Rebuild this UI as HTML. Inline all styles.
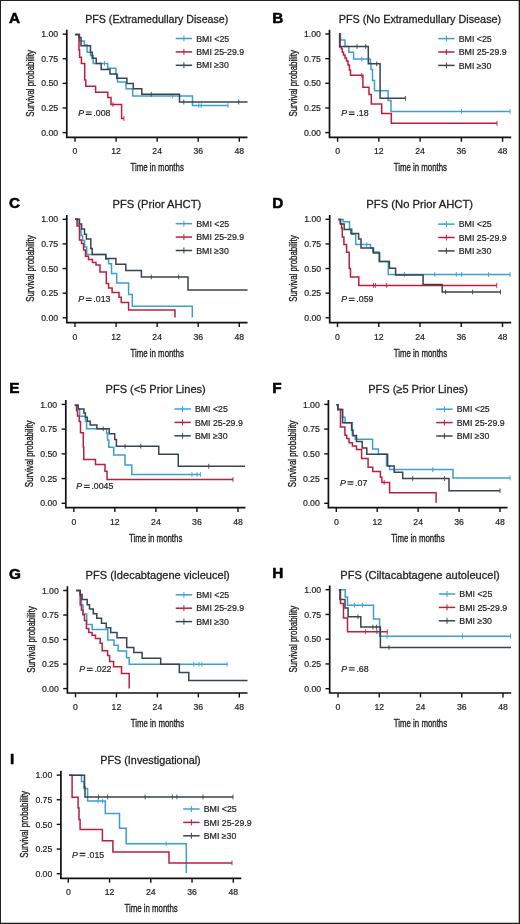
<!DOCTYPE html>
<html><head><meta charset="utf-8"><style>
html,body{margin:0;padding:0;background:#fff;}
body{width:520px;height:924px;overflow:hidden;}
svg{display:block;will-change:transform;}
text{font-family:'Liberation Sans', sans-serif;fill:#222;stroke:#222;stroke-width:0.2px;}
.L{font-size:15.3px;font-weight:bold;fill:#000;stroke:#000;stroke-width:0.55px;}
.T{font-size:11.3px;stroke-width:0.28px;}
.tl{font-size:8.7px;}
.at{font-size:11.4px;stroke:#222;stroke-width:0.35px;}
.pv{font-size:8.8px;}
.lt{font-size:8.8px;}
.ax{fill:none;stroke:#111;stroke-width:1.7;stroke-linejoin:miter;stroke-linecap:butt;}
.tk{fill:none;stroke:#111;stroke-width:1.4;}
.lg{fill:none;stroke-width:1.5;}
.lgc{fill:none;stroke-width:1;}
.cv path{fill:none;stroke-width:1.5;stroke-linejoin:miter;}
.cv path.cs{stroke-width:0.9;}
</style></head><body>
<svg width="520" height="924" viewBox="0 0 520 924">
<rect x="0" y="0" width="520" height="924" fill="#fff"/><path d="M0.5 0V924M0 0.5H520" stroke="#222" stroke-width="1" fill="none"/><path d="M519.35 0V924M0 923.35H520" stroke="#1a1a1a" stroke-width="1.3" fill="none"/>
<text x="9.1" y="22.75" class="L">A</text>
<text x="156.75" y="22.9" class="T" text-anchor="middle" textLength="143.1" lengthAdjust="spacingAndGlyphs">PFS (Extramedullary Disease)</text>
<path d="M66.8 29.8V137.4H247.5" class="ax" />
<path d="M62.6 34.1H66.8" class="tk" />
<text x="58.2" y="37.2" class="tl" text-anchor="end">1.00</text>
<path d="M62.6 58.73H66.8" class="tk" />
<text x="58.2" y="61.83" class="tl" text-anchor="end">0.75</text>
<path d="M62.6 83.35H66.8" class="tk" />
<text x="58.2" y="86.45" class="tl" text-anchor="end">0.50</text>
<path d="M62.6 107.97H66.8" class="tk" />
<text x="58.2" y="111.07" class="tl" text-anchor="end">0.25</text>
<path d="M62.6 132.6H66.8" class="tk" />
<text x="58.2" y="135.7" class="tl" text-anchor="end">0.00</text>
<path d="M75 137.4V141.8" class="tk" />
<text x="75" y="154.2" class="tl" text-anchor="middle">0</text>
<path d="M116.08 137.4V141.8" class="tk" />
<text x="116.08" y="154.2" class="tl" text-anchor="middle">12</text>
<path d="M157.15 137.4V141.8" class="tk" />
<text x="157.15" y="154.2" class="tl" text-anchor="middle">24</text>
<path d="M198.23 137.4V141.8" class="tk" />
<text x="198.23" y="154.2" class="tl" text-anchor="middle">36</text>
<path d="M239.3 137.4V141.8" class="tk" />
<text x="239.3" y="154.2" class="tl" text-anchor="middle">48</text>
<text x="157.15" y="171.2" class="at" text-anchor="middle" textLength="53.4" lengthAdjust="spacingAndGlyphs">Time in months</text>
<text transform="translate(34.2 83.35) rotate(-90)" x="0" y="0" class="at" text-anchor="middle" textLength="66.6" lengthAdjust="spacingAndGlyphs">Survival probability</text>
<text x="78.2" y="116.3" class="pv" font-style="italic">P</text>
<path d="M85.8 112.05h5.8M85.8 114.35h5.8" stroke="#222" stroke-width="1.05" fill="none" />
<text x="93.3" y="116.3" class="pv">.008</text>
<path d="M175.7 38.5H192.1" stroke="#3a9fd2" class="lg" /><path d="M183.9 35.5V41.5" stroke="#3a9fd2" class="lgc" />
<text x="196.2" y="41.6" class="lt">BMI &lt;25</text>
<path d="M175.7 51.9H192.1" stroke="#ba1f40" class="lg" /><path d="M183.9 48.9V54.9" stroke="#ba1f40" class="lgc" />
<text x="196.2" y="55" class="lt">BMI 25-29.9</text>
<path d="M175.7 65.3H192.1" stroke="#3a4350" class="lg" /><path d="M183.9 62.3V68.3" stroke="#3a4350" class="lgc" />
<text x="196.2" y="68.4" class="lt">BMI ≥30</text>
<g class="cv">
<path d="M75.2 34.4H79.5V41.1H84.4V45.1H87.1V52.2H90.5V55.6H93.2V63.4H107.7V68.2H115.9V74.4H117.5V81.9H126V88.8H132.7V96.1H192.5V105.5H228" stroke="#3a9fd2" /><path d="M104.5 61V65.8" stroke="#3a9fd2" class="cs" /><path d="M172.5 93.7V98.5" stroke="#3a9fd2" class="cs" /><path d="M198.75 103.1V107.9" stroke="#3a9fd2" class="cs" /><path d="M201.25 103.1V107.9" stroke="#3a9fd2" class="cs" /><path d="M228 103.1V107.9" stroke="#3a9fd2" class="cs" />
<path d="M75.2 34.4H79V50H79.6V57.3H81.4V63.4H84.7V80H85.8V86.2H95.6V92.3H107.8V97.6H111V104.5H121.6V118.6H123.9" stroke="#ba1f40" /><path d="M113 102.1V106.9" stroke="#ba1f40" class="cs" /><path d="M123.9 116.2V121" stroke="#ba1f40" class="cs" />
<path d="M75.2 34.4H79V37.4H81V45.8H90.5V52.2H92.2V58.3H96.2V63.6H101.2V69.5H110V74H116.8V78.3H126.9V83.6H133.2V88.8H141.8V94.3H179.5V102H247.5" stroke="#3a4350" /><path d="M151.25 91.9V96.7" stroke="#3a4350" class="cs" /><path d="M183.75 99.6V104.4" stroke="#3a4350" class="cs" /><path d="M238.75 99.6V104.4" stroke="#3a4350" class="cs" />
</g>
<text x="272.3" y="22.65" class="L">B</text>
<text x="419.95" y="22.8" class="T" text-anchor="middle" textLength="162.5" lengthAdjust="spacingAndGlyphs">PFS (No Extramedullary Disease)</text>
<path d="M329.5 29.7V137.4H511.2" class="ax" />
<path d="M325.3 34H329.5" class="tk" />
<text x="320.9" y="37.1" class="tl" text-anchor="end">1.00</text>
<path d="M325.3 58.65H329.5" class="tk" />
<text x="320.9" y="61.75" class="tl" text-anchor="end">0.75</text>
<path d="M325.3 83.3H329.5" class="tk" />
<text x="320.9" y="86.4" class="tl" text-anchor="end">0.50</text>
<path d="M325.3 107.95H329.5" class="tk" />
<text x="320.9" y="111.05" class="tl" text-anchor="end">0.25</text>
<path d="M325.3 132.6H329.5" class="tk" />
<text x="320.9" y="135.7" class="tl" text-anchor="end">0.00</text>
<path d="M337.6 137.4V141.8" class="tk" />
<text x="337.6" y="154.2" class="tl" text-anchor="middle">0</text>
<path d="M378.85 137.4V141.8" class="tk" />
<text x="378.85" y="154.2" class="tl" text-anchor="middle">12</text>
<path d="M420.1 137.4V141.8" class="tk" />
<text x="420.1" y="154.2" class="tl" text-anchor="middle">24</text>
<path d="M461.35 137.4V141.8" class="tk" />
<text x="461.35" y="154.2" class="tl" text-anchor="middle">36</text>
<path d="M502.6 137.4V141.8" class="tk" />
<text x="502.6" y="154.2" class="tl" text-anchor="middle">48</text>
<text x="420.35" y="171.2" class="at" text-anchor="middle" textLength="53.4" lengthAdjust="spacingAndGlyphs">Time in months</text>
<text transform="translate(296.9 83.3) rotate(-90)" x="0" y="0" class="at" text-anchor="middle" textLength="66.6" lengthAdjust="spacingAndGlyphs">Survival probability</text>
<text x="341.2" y="116.3" class="pv" font-style="italic">P</text>
<path d="M348.8 112.05h5.8M348.8 114.35h5.8" stroke="#222" stroke-width="1.05" fill="none" />
<text x="356.3" y="116.3" class="pv">.18</text>
<path d="M438.2 38.6H454.6" stroke="#3a9fd2" class="lg" /><path d="M446.4 35.6V41.6" stroke="#3a9fd2" class="lgc" />
<text x="458.7" y="41.7" class="lt">BMI &lt;25</text>
<path d="M438.2 52H454.6" stroke="#ba1f40" class="lg" /><path d="M446.4 49V55" stroke="#ba1f40" class="lgc" />
<text x="458.7" y="55.1" class="lt">BMI 25-29.9</text>
<path d="M438.2 65.4H454.6" stroke="#3a4350" class="lg" /><path d="M446.4 62.4V68.4" stroke="#3a4350" class="lgc" />
<text x="458.7" y="68.5" class="lt">BMI ≥30</text>
<g class="cv">
<path d="M339.2 33.8H340.5V40.1H345V46.5H348.8V52.2H353.6V59.1H370.3V63.2H371V69.5H372.5V80.4H374.5V90.8H388.1V100.6H391V111.5H510" stroke="#3a9fd2" /><path d="M361.7 56.7V61.5" stroke="#3a9fd2" class="cs" /><path d="M461.5 109.1V113.9" stroke="#3a9fd2" class="cs" /><path d="M510 109.1V113.9" stroke="#3a9fd2" class="cs" />
<path d="M339.2 33.8H340V47H341.5V48.8H342.3V52.2H343.5V55H345V58H346.5V61H348V65H349.4V70H350.5V75.2H362.9V87.3H369V94.5H371.3V104H381.7V113.6H391.3V123.3H497" stroke="#ba1f40" /><path d="M361.7 72.8V77.6" stroke="#ba1f40" class="cs" /><path d="M497 120.9V125.7" stroke="#ba1f40" class="cs" />
<path d="M339.2 33.8H339.6V46.5H368.3V63.8H380.1V98.3H405.4" stroke="#3a4350" /><path d="M357 44.1V48.9" stroke="#3a4350" class="cs" /><path d="M365.7 44.1V48.9" stroke="#3a4350" class="cs" /><path d="M376.7 61.4V66.2" stroke="#3a4350" class="cs" /><path d="M405.4 95.9V100.7" stroke="#3a4350" class="cs" />
</g>
<text x="9.1" y="207.95" class="L">C</text>
<text x="156.85" y="208.1" class="T" text-anchor="middle" textLength="88.7" lengthAdjust="spacingAndGlyphs">PFS (Prior AHCT)</text>
<path d="M66.8 215V322.7H247.5" class="ax" />
<path d="M62.6 219.3H66.8" class="tk" />
<text x="58.2" y="222.4" class="tl" text-anchor="end">1.00</text>
<path d="M62.6 243.93H66.8" class="tk" />
<text x="58.2" y="247.03" class="tl" text-anchor="end">0.75</text>
<path d="M62.6 268.55H66.8" class="tk" />
<text x="58.2" y="271.65" class="tl" text-anchor="end">0.50</text>
<path d="M62.6 293.18H66.8" class="tk" />
<text x="58.2" y="296.28" class="tl" text-anchor="end">0.25</text>
<path d="M62.6 317.8H66.8" class="tk" />
<text x="58.2" y="320.9" class="tl" text-anchor="end">0.00</text>
<path d="M75 322.7V327.1" class="tk" />
<text x="75" y="339.5" class="tl" text-anchor="middle">0</text>
<path d="M116.08 322.7V327.1" class="tk" />
<text x="116.08" y="339.5" class="tl" text-anchor="middle">12</text>
<path d="M157.15 322.7V327.1" class="tk" />
<text x="157.15" y="339.5" class="tl" text-anchor="middle">24</text>
<path d="M198.23 322.7V327.1" class="tk" />
<text x="198.23" y="339.5" class="tl" text-anchor="middle">36</text>
<path d="M239.3 322.7V327.1" class="tk" />
<text x="239.3" y="339.5" class="tl" text-anchor="middle">48</text>
<text x="157.15" y="356.5" class="at" text-anchor="middle" textLength="53.4" lengthAdjust="spacingAndGlyphs">Time in months</text>
<text transform="translate(34.2 268.55) rotate(-90)" x="0" y="0" class="at" text-anchor="middle" textLength="66.6" lengthAdjust="spacingAndGlyphs">Survival probability</text>
<text x="78.2" y="302.4" class="pv" font-style="italic">P</text>
<path d="M85.8 298.15h5.8M85.8 300.45h5.8" stroke="#222" stroke-width="1.05" fill="none" />
<text x="93.3" y="302.4" class="pv">.013</text>
<path d="M175.7 223.7H192.1" stroke="#3a9fd2" class="lg" /><path d="M183.9 220.7V226.7" stroke="#3a9fd2" class="lgc" />
<text x="196.2" y="226.8" class="lt">BMI &lt;25</text>
<path d="M175.7 237.1H192.1" stroke="#ba1f40" class="lg" /><path d="M183.9 234.1V240.1" stroke="#ba1f40" class="lgc" />
<text x="196.2" y="240.2" class="lt">BMI 25-29.9</text>
<path d="M175.7 250.5H192.1" stroke="#3a4350" class="lg" /><path d="M183.9 247.5V253.5" stroke="#3a4350" class="lgc" />
<text x="196.2" y="253.6" class="lt">BMI ≥30</text>
<g class="cv">
<path d="M75 219.3H77.8V224H79.6V230H81V235.5H82.6V240.5H84.6V247H86.7V254.6H105.8V259.2H108.6V263.8H111.5V273.6H116.7V282.9H128.6V294.4H132.3V306.3H192.3V317.5" stroke="#3a9fd2" />
<path d="M75 219.3H77V226H79.5V240H81.5V243.5H83.6V250H85.5V256.3H88.5V259.5H92.5V262.5H96V265H100V271.9H106.3V283.4H108.6V288H112.1V292.5H119V297.3H121.3V302.4H128.6V310H175V317.5" stroke="#ba1f40" />
<path d="M75 219.3H79.5V224.1H81.6V228.9H84.5V234.2H86.4V239H90.8V248.6H92.2V254.4H105.8V258.6H115.9V264.3H125.8V270.4H141.4V276.9H188V290H247.5" stroke="#3a4350" /><path d="M151.25 274.5V279.3" stroke="#3a4350" class="cs" /><path d="M178.75 274.5V279.3" stroke="#3a4350" class="cs" />
</g>
<text x="272.3" y="207.95" class="L">D</text>
<text x="419.7" y="208.1" class="T" text-anchor="middle" textLength="106.8" lengthAdjust="spacingAndGlyphs">PFS (No Prior AHCT)</text>
<path d="M329.7 215V322.7H511.2" class="ax" />
<path d="M325.5 219.3H329.7" class="tk" />
<text x="321.1" y="222.4" class="tl" text-anchor="end">1.00</text>
<path d="M325.5 243.93H329.7" class="tk" />
<text x="321.1" y="247.03" class="tl" text-anchor="end">0.75</text>
<path d="M325.5 268.55H329.7" class="tk" />
<text x="321.1" y="271.65" class="tl" text-anchor="end">0.50</text>
<path d="M325.5 293.18H329.7" class="tk" />
<text x="321.1" y="296.28" class="tl" text-anchor="end">0.25</text>
<path d="M325.5 317.8H329.7" class="tk" />
<text x="321.1" y="320.9" class="tl" text-anchor="end">0.00</text>
<path d="M337.5 322.7V327.1" class="tk" />
<text x="337.5" y="339.5" class="tl" text-anchor="middle">0</text>
<path d="M378.75 322.7V327.1" class="tk" />
<text x="378.75" y="339.5" class="tl" text-anchor="middle">12</text>
<path d="M420 322.7V327.1" class="tk" />
<text x="420" y="339.5" class="tl" text-anchor="middle">24</text>
<path d="M461.25 322.7V327.1" class="tk" />
<text x="461.25" y="339.5" class="tl" text-anchor="middle">36</text>
<path d="M502.5 322.7V327.1" class="tk" />
<text x="502.5" y="339.5" class="tl" text-anchor="middle">48</text>
<text x="420.45" y="356.5" class="at" text-anchor="middle" textLength="53.4" lengthAdjust="spacingAndGlyphs">Time in months</text>
<text transform="translate(297.1 268.55) rotate(-90)" x="0" y="0" class="at" text-anchor="middle" textLength="66.6" lengthAdjust="spacingAndGlyphs">Survival probability</text>
<text x="341.2" y="302.4" class="pv" font-style="italic">P</text>
<path d="M348.8 298.15h5.8M348.8 300.45h5.8" stroke="#222" stroke-width="1.05" fill="none" />
<text x="356.3" y="302.4" class="pv">.059</text>
<path d="M438.2 224.1H454.6" stroke="#3a9fd2" class="lg" /><path d="M446.4 221.1V227.1" stroke="#3a9fd2" class="lgc" />
<text x="458.7" y="227.2" class="lt">BMI &lt;25</text>
<path d="M438.2 237.5H454.6" stroke="#ba1f40" class="lg" /><path d="M446.4 234.5V240.5" stroke="#ba1f40" class="lgc" />
<text x="458.7" y="240.6" class="lt">BMI 25-29.9</text>
<path d="M438.2 250.9H454.6" stroke="#3a4350" class="lg" /><path d="M446.4 247.9V253.9" stroke="#3a4350" class="lgc" />
<text x="458.7" y="254" class="lt">BMI ≥30</text>
<g class="cv">
<path d="M338.4 219.6H343.2V221.7H349.5V229H351.9V234.2H355.7V244.6H370.6V248.1H372.7V252.1H379V261.4H388.3V274.5H510" stroke="#3a9fd2" /><path d="M366.8 242.2V247" stroke="#3a9fd2" class="cs" /><path d="M404.5 272.1V276.9" stroke="#3a9fd2" class="cs" /><path d="M434.7 272.1V276.9" stroke="#3a9fd2" class="cs" /><path d="M456.3 272.1V276.9" stroke="#3a9fd2" class="cs" /><path d="M461.6 272.1V276.9" stroke="#3a9fd2" class="cs" /><path d="M488.6 272.1V276.9" stroke="#3a9fd2" class="cs" /><path d="M510 272.1V276.9" stroke="#3a9fd2" class="cs" />
<path d="M338.4 219.6H340.3V223.6H341.5V228H342.3V237H343.9V244.6H346.6V252.3H349.2V268.5H350.5V276.9H358.8V285.4H496.7" stroke="#ba1f40" /><path d="M373.5 283V287.8" stroke="#ba1f40" class="cs" /><path d="M375.4 283V287.8" stroke="#ba1f40" class="cs" /><path d="M386.7 283V287.8" stroke="#ba1f40" class="cs" /><path d="M496.7 283V287.8" stroke="#ba1f40" class="cs" />
<path d="M338.4 219.6H340.5V224.1H344.2V229.4H350.9V233.5H358.6V239H361V248.1H373.5V253H379.6V261.4H389.4V268.3H395.6V275H423.1V284.5H442.2V292H500.5" stroke="#3a4350" /><path d="M445.6 289.6V294.4" stroke="#3a4350" class="cs" /><path d="M472.6 289.6V294.4" stroke="#3a4350" class="cs" /><path d="M500.5 289.6V294.4" stroke="#3a4350" class="cs" />
</g>
<text x="9.3" y="393.05" class="L">E</text>
<text x="155.65" y="393.2" class="T" text-anchor="middle" textLength="100.1" lengthAdjust="spacingAndGlyphs">PFS (&lt;5 Prior Lines)</text>
<path d="M65.8 400.1V507.7H245.5" class="ax" />
<path d="M61.6 404.4H65.8" class="tk" />
<text x="57.2" y="407.5" class="tl" text-anchor="end">1.00</text>
<path d="M61.6 429.12H65.8" class="tk" />
<text x="57.2" y="432.23" class="tl" text-anchor="end">0.75</text>
<path d="M61.6 453.85H65.8" class="tk" />
<text x="57.2" y="456.95" class="tl" text-anchor="end">0.50</text>
<path d="M61.6 478.57H65.8" class="tk" />
<text x="57.2" y="481.68" class="tl" text-anchor="end">0.25</text>
<path d="M61.6 503.3H65.8" class="tk" />
<text x="57.2" y="506.4" class="tl" text-anchor="end">0.00</text>
<path d="M73.8 507.7V512.1" class="tk" />
<text x="73.8" y="524.5" class="tl" text-anchor="middle">0</text>
<path d="M114.85 507.7V512.1" class="tk" />
<text x="114.85" y="524.5" class="tl" text-anchor="middle">12</text>
<path d="M155.9 507.7V512.1" class="tk" />
<text x="155.9" y="524.5" class="tl" text-anchor="middle">24</text>
<path d="M196.95 507.7V512.1" class="tk" />
<text x="196.95" y="524.5" class="tl" text-anchor="middle">36</text>
<path d="M238 507.7V512.1" class="tk" />
<text x="238" y="524.5" class="tl" text-anchor="middle">48</text>
<text x="155.65" y="541.5" class="at" text-anchor="middle" textLength="53.4" lengthAdjust="spacingAndGlyphs">Time in months</text>
<text transform="translate(33.2 453.85) rotate(-90)" x="0" y="0" class="at" text-anchor="middle" textLength="66.6" lengthAdjust="spacingAndGlyphs">Survival probability</text>
<text x="76.3" y="489.4" class="pv" font-style="italic">P</text>
<path d="M83.9 485.15h5.8M83.9 487.45h5.8" stroke="#222" stroke-width="1.05" fill="none" />
<text x="91.4" y="489.4" class="pv">.0045</text>
<path d="M174.4 409H190.8" stroke="#3a9fd2" class="lg" /><path d="M182.6 406V412" stroke="#3a9fd2" class="lgc" />
<text x="194.9" y="412.1" class="lt">BMI &lt;25</text>
<path d="M174.4 422.4H190.8" stroke="#ba1f40" class="lg" /><path d="M182.6 419.4V425.4" stroke="#ba1f40" class="lgc" />
<text x="194.9" y="425.5" class="lt">BMI 25-29.9</text>
<path d="M174.4 435.8H190.8" stroke="#3a4350" class="lg" /><path d="M182.6 432.8V438.8" stroke="#3a4350" class="lgc" />
<text x="194.9" y="438.9" class="lt">BMI ≥30</text>
<g class="cv">
<path d="M74.8 405.3H78.2V409H79.6V416.3H85.4V421H86.6V428.7H106.5V433H107.5V439.9H108.8V447.3H113.75V455H125V465H131.75V474.5H200" stroke="#3a9fd2" /><path d="M191.9 472.1V476.9" stroke="#3a9fd2" class="cs" /><path d="M197.1 472.1V476.9" stroke="#3a9fd2" class="cs" /><path d="M200.4 472.1V476.9" stroke="#3a9fd2" class="cs" />
<path d="M74.8 405.3H76.5V410.6H77.5V416H79.2V421.6H80.5V432.7H83.3V447H83.75V459.5H95.5V464.5H105V471.25H107V479.5H233" stroke="#ba1f40" /><path d="M233 477.1V481.9" stroke="#ba1f40" class="cs" />
<path d="M74.8 405.3H78.2V409.1H83.9V413H85.4V417.3H87.3V421.2H90.2V425H96.9V428.8H109.2V433.7H114.7V439.4H116.4V446.2H158.75V454.25H178.25V466.25H245" stroke="#3a4350" /><path d="M103.2 426.4V431.2" stroke="#3a4350" class="cs" /><path d="M125 443.8V448.6" stroke="#3a4350" class="cs" /><path d="M140.75 443.8V448.6" stroke="#3a4350" class="cs" /><path d="M208.75 463.85V468.65" stroke="#3a4350" class="cs" />
</g>
<text x="272.3" y="393.05" class="L">F</text>
<text x="418.1" y="393.2" class="T" text-anchor="middle" textLength="99.8" lengthAdjust="spacingAndGlyphs">PFS (≥5 Prior Lines)</text>
<path d="M328.4 400.1V507.7H507.5" class="ax" />
<path d="M324.2 404.4H328.4" class="tk" />
<text x="319.8" y="407.5" class="tl" text-anchor="end">1.00</text>
<path d="M324.2 429.12H328.4" class="tk" />
<text x="319.8" y="432.23" class="tl" text-anchor="end">0.75</text>
<path d="M324.2 453.85H328.4" class="tk" />
<text x="319.8" y="456.95" class="tl" text-anchor="end">0.50</text>
<path d="M324.2 478.57H328.4" class="tk" />
<text x="319.8" y="481.68" class="tl" text-anchor="end">0.25</text>
<path d="M324.2 503.3H328.4" class="tk" />
<text x="319.8" y="506.4" class="tl" text-anchor="end">0.00</text>
<path d="M336.3 507.7V512.1" class="tk" />
<text x="336.3" y="524.5" class="tl" text-anchor="middle">0</text>
<path d="M377.23 507.7V512.1" class="tk" />
<text x="377.23" y="524.5" class="tl" text-anchor="middle">12</text>
<path d="M418.15 507.7V512.1" class="tk" />
<text x="418.15" y="524.5" class="tl" text-anchor="middle">24</text>
<path d="M459.07 507.7V512.1" class="tk" />
<text x="459.07" y="524.5" class="tl" text-anchor="middle">36</text>
<path d="M500 507.7V512.1" class="tk" />
<text x="500" y="524.5" class="tl" text-anchor="middle">48</text>
<text x="417.95" y="541.5" class="at" text-anchor="middle" textLength="53.4" lengthAdjust="spacingAndGlyphs">Time in months</text>
<text transform="translate(295.8 453.85) rotate(-90)" x="0" y="0" class="at" text-anchor="middle" textLength="66.6" lengthAdjust="spacingAndGlyphs">Survival probability</text>
<text x="340" y="486.1" class="pv" font-style="italic">P</text>
<path d="M347.6 481.85h5.8M347.6 484.15h5.8" stroke="#222" stroke-width="1.05" fill="none" />
<text x="355.1" y="486.1" class="pv">.07</text>
<path d="M436.2 409.2H452.6" stroke="#3a9fd2" class="lg" /><path d="M444.4 406.2V412.2" stroke="#3a9fd2" class="lgc" />
<text x="456.7" y="412.3" class="lt">BMI &lt;25</text>
<path d="M436.2 422.6H452.6" stroke="#ba1f40" class="lg" /><path d="M444.4 419.6V425.6" stroke="#ba1f40" class="lgc" />
<text x="456.7" y="425.7" class="lt">BMI 25-29.9</text>
<path d="M436.2 436H452.6" stroke="#3a4350" class="lg" /><path d="M444.4 433V439" stroke="#3a4350" class="lgc" />
<text x="456.7" y="439.1" class="lt">BMI ≥30</text>
<g class="cv">
<path d="M336.4 404.8H337.8V409.6H342.5V417.3H345.1V422.8H352.3V435.8H355.3V439.2H372.6V449H378.4V454.2H386.5V465.8H389.6V469.6H453V478H510" stroke="#3a9fd2" /><path d="M432.7 467.2V472" stroke="#3a9fd2" class="cs" /><path d="M510 475.6V480.4" stroke="#3a9fd2" class="cs" />
<path d="M336.4 404.8H337.8V409.6H340.5V427.1H344.9V435.2H346.7V438.6H349V442.7H352.4V446.1H356.5V449.6H361.6V458.4H368.1V467.3H372.7V471.6H380.4V477.3H381.9V482.4H389.6V492.7H436.1V502.7" stroke="#ba1f40" /><path d="M384.2 480V484.8" stroke="#ba1f40" class="cs" />
<path d="M336.4 404.8H337.8V409.6H342.6V422.8H351.6V430H353V435.5H356.5V441.5H362.2V447.9H366.8V454.2H387.6V466H394.2V472.2H402.7V478.5H449V490.75H500" stroke="#3a4350" /><path d="M412.7 476.1V480.9" stroke="#3a4350" class="cs" /><path d="M444.5 476.1V480.9" stroke="#3a4350" class="cs" /><path d="M500 488.35V493.15" stroke="#3a4350" class="cs" />
</g>
<text x="9.1" y="579.15" class="L">G</text>
<text x="157.7" y="579.3" class="T" text-anchor="middle" textLength="144.2" lengthAdjust="spacingAndGlyphs">PFS (Idecabtagene vicleucel)</text>
<path d="M67.4 586.2V693H247.5" class="ax" />
<path d="M63.2 590.5H67.4" class="tk" />
<text x="58.8" y="593.6" class="tl" text-anchor="end">1.00</text>
<path d="M63.2 615.02H67.4" class="tk" />
<text x="58.8" y="618.12" class="tl" text-anchor="end">0.75</text>
<path d="M63.2 639.55H67.4" class="tk" />
<text x="58.8" y="642.65" class="tl" text-anchor="end">0.50</text>
<path d="M63.2 664.08H67.4" class="tk" />
<text x="58.8" y="667.18" class="tl" text-anchor="end">0.25</text>
<path d="M63.2 688.6H67.4" class="tk" />
<text x="58.8" y="691.7" class="tl" text-anchor="end">0.00</text>
<path d="M75.5 693V697.4" class="tk" />
<text x="75.5" y="709.8" class="tl" text-anchor="middle">0</text>
<path d="M116.45 693V697.4" class="tk" />
<text x="116.45" y="709.8" class="tl" text-anchor="middle">12</text>
<path d="M157.4 693V697.4" class="tk" />
<text x="157.4" y="709.8" class="tl" text-anchor="middle">24</text>
<path d="M198.35 693V697.4" class="tk" />
<text x="198.35" y="709.8" class="tl" text-anchor="middle">36</text>
<path d="M239.3 693V697.4" class="tk" />
<text x="239.3" y="709.8" class="tl" text-anchor="middle">48</text>
<text x="157.45" y="726.8" class="at" text-anchor="middle" textLength="53.4" lengthAdjust="spacingAndGlyphs">Time in months</text>
<text transform="translate(34.8 639.55) rotate(-90)" x="0" y="0" class="at" text-anchor="middle" textLength="66.6" lengthAdjust="spacingAndGlyphs">Survival probability</text>
<text x="79.3" y="672.4" class="pv" font-style="italic">P</text>
<path d="M86.9 668.15h5.8M86.9 670.45h5.8" stroke="#222" stroke-width="1.05" fill="none" />
<text x="94.4" y="672.4" class="pv">.022</text>
<path d="M175.7 594.8H192.1" stroke="#3a9fd2" class="lg" /><path d="M183.9 591.8V597.8" stroke="#3a9fd2" class="lgc" />
<text x="196.2" y="597.9" class="lt">BMI &lt;25</text>
<path d="M175.7 608.2H192.1" stroke="#ba1f40" class="lg" /><path d="M183.9 605.2V611.2" stroke="#ba1f40" class="lgc" />
<text x="196.2" y="611.3" class="lt">BMI 25-29.9</text>
<path d="M175.7 621.6H192.1" stroke="#3a4350" class="lg" /><path d="M183.9 618.6V624.6" stroke="#3a4350" class="lgc" />
<text x="196.2" y="624.7" class="lt">BMI ≥30</text>
<g class="cv">
<path d="M76 590.6H80.2V596H81.5V605H83V614H86.7V624.6H92.2V629.6H107.8V639.9H114V645.3H118.1V651.1H126.5V657.8H129.2V664.2H227.5" stroke="#3a9fd2" /><path d="M193.8 661.8V666.6" stroke="#3a9fd2" class="cs" /><path d="M199 661.8V666.6" stroke="#3a9fd2" class="cs" /><path d="M201.9 661.8V666.6" stroke="#3a9fd2" class="cs" /><path d="M227 661.8V666.6" stroke="#3a9fd2" class="cs" />
<path d="M76 590.6H80.2V605H81.4V610H83V614.8H84.5V620.6H86.4V628.5H88.8V632.6H92.1V635.2H95.5V638.6H100.2V643.3H102.2V650.7H107.6V655.4H109.6V661.4H113.6V666.8H121.5V673.5H129.2V688.4" stroke="#ba1f40" />
<path d="M76 590.6H80.2V594.6H82.1V599.4H87.2V604.7H89.5V609H93.3V613.8H96.8V618.3H101.5V623.2H106.2V627.8H110.7V632.5H117V637.8H126.7V647.5H133.8V652.6H142.1V658.2H160.7V664.3H179.3V672.4H188.8V680.5H247.5" stroke="#3a4350" />
</g>
<text x="272.3" y="578.35" class="L">H</text>
<text x="419.95" y="578.5" class="T" text-anchor="middle" textLength="159.3" lengthAdjust="spacingAndGlyphs">PFS (Ciltacabtagene autoleucel)</text>
<path d="M329.7 585.4V693H511.2" class="ax" />
<path d="M325.5 589.7H329.7" class="tk" />
<text x="321.1" y="592.8" class="tl" text-anchor="end">1.00</text>
<path d="M325.5 614.45H329.7" class="tk" />
<text x="321.1" y="617.55" class="tl" text-anchor="end">0.75</text>
<path d="M325.5 639.2H329.7" class="tk" />
<text x="321.1" y="642.3" class="tl" text-anchor="end">0.50</text>
<path d="M325.5 663.95H329.7" class="tk" />
<text x="321.1" y="667.05" class="tl" text-anchor="end">0.25</text>
<path d="M325.5 688.7H329.7" class="tk" />
<text x="321.1" y="691.8" class="tl" text-anchor="end">0.00</text>
<path d="M338 693V697.4" class="tk" />
<text x="338" y="709.8" class="tl" text-anchor="middle">0</text>
<path d="M379.25 693V697.4" class="tk" />
<text x="379.25" y="709.8" class="tl" text-anchor="middle">12</text>
<path d="M420.5 693V697.4" class="tk" />
<text x="420.5" y="709.8" class="tl" text-anchor="middle">24</text>
<path d="M461.75 693V697.4" class="tk" />
<text x="461.75" y="709.8" class="tl" text-anchor="middle">36</text>
<path d="M503 693V697.4" class="tk" />
<text x="503" y="709.8" class="tl" text-anchor="middle">48</text>
<text x="420.45" y="726.8" class="at" text-anchor="middle" textLength="53.4" lengthAdjust="spacingAndGlyphs">Time in months</text>
<text transform="translate(297.1 639.2) rotate(-90)" x="0" y="0" class="at" text-anchor="middle" textLength="66.6" lengthAdjust="spacingAndGlyphs">Survival probability</text>
<text x="341.3" y="671.9" class="pv" font-style="italic">P</text>
<path d="M348.9 667.65h5.8M348.9 669.95h5.8" stroke="#222" stroke-width="1.05" fill="none" />
<text x="356.4" y="671.9" class="pv">.68</text>
<path d="M438.8 594H455.2" stroke="#3a9fd2" class="lg" /><path d="M447 591V597" stroke="#3a9fd2" class="lgc" />
<text x="459.3" y="597.1" class="lt">BMI &lt;25</text>
<path d="M438.8 607.4H455.2" stroke="#ba1f40" class="lg" /><path d="M447 604.4V610.4" stroke="#ba1f40" class="lgc" />
<text x="459.3" y="610.5" class="lt">BMI 25-29.9</text>
<path d="M438.8 620.8H455.2" stroke="#3a4350" class="lg" /><path d="M447 617.8V623.8" stroke="#3a4350" class="lgc" />
<text x="459.3" y="623.9" class="lt">BMI ≥30</text>
<g class="cv">
<path d="M338.9 589.8H345.2V597.1H347.5V605.2H373.5V619H379.6V636.3H510.8" stroke="#3a9fd2" /><path d="M354.5 602.8V607.6" stroke="#3a9fd2" class="cs" /><path d="M362.5 602.8V607.6" stroke="#3a9fd2" class="cs" /><path d="M387.1 633.9V638.7" stroke="#3a9fd2" class="cs" /><path d="M462.6 633.9V638.7" stroke="#3a9fd2" class="cs" /><path d="M510.5 633.9V638.7" stroke="#3a9fd2" class="cs" />
<path d="M338.9 589.8H340.5V603.5H343.5V617.9H347.5V631.7H387.3" stroke="#ba1f40" /><path d="M365.4 629.3V634.1" stroke="#ba1f40" class="cs" /><path d="M376.9 629.3V634.1" stroke="#ba1f40" class="cs" /><path d="M387.3 629.3V634.1" stroke="#ba1f40" class="cs" />
<path d="M338.9 589.8H340V599.4H345V608.1H348.1V616.7H360.8V627.1H380.4V647.4H511" stroke="#3a4350" /><path d="M357.9 614.3V619.1" stroke="#3a4350" class="cs" /><path d="M372.9 624.7V629.5" stroke="#3a4350" class="cs" /><path d="M376.4 624.7V629.5" stroke="#3a4350" class="cs" /><path d="M389 645V649.8" stroke="#3a4350" class="cs" />
</g>
<text x="9.9" y="763.75" class="L">I</text>
<text x="150.45" y="763.9" class="T" text-anchor="middle" textLength="100.5" lengthAdjust="spacingAndGlyphs">PFS (Investigational)</text>
<path d="M60.9 770.8V878.3H241.3" class="ax" />
<path d="M56.7 775.1H60.9" class="tk" />
<text x="52.3" y="778.2" class="tl" text-anchor="end">1.00</text>
<path d="M56.7 799.75H60.9" class="tk" />
<text x="52.3" y="802.85" class="tl" text-anchor="end">0.75</text>
<path d="M56.7 824.4H60.9" class="tk" />
<text x="52.3" y="827.5" class="tl" text-anchor="end">0.50</text>
<path d="M56.7 849.05H60.9" class="tk" />
<text x="52.3" y="852.15" class="tl" text-anchor="end">0.25</text>
<path d="M56.7 873.7H60.9" class="tk" />
<text x="52.3" y="876.8" class="tl" text-anchor="end">0.00</text>
<path d="M68.3 878.3V882.7" class="tk" />
<text x="68.3" y="895.1" class="tl" text-anchor="middle">0</text>
<path d="M109.55 878.3V882.7" class="tk" />
<text x="109.55" y="895.1" class="tl" text-anchor="middle">12</text>
<path d="M150.8 878.3V882.7" class="tk" />
<text x="150.8" y="895.1" class="tl" text-anchor="middle">24</text>
<path d="M192.05 878.3V882.7" class="tk" />
<text x="192.05" y="895.1" class="tl" text-anchor="middle">36</text>
<path d="M233.3 878.3V882.7" class="tk" />
<text x="233.3" y="895.1" class="tl" text-anchor="middle">48</text>
<text x="151.1" y="912.1" class="at" text-anchor="middle" textLength="53.4" lengthAdjust="spacingAndGlyphs">Time in months</text>
<text transform="translate(28.3 824.4) rotate(-90)" x="0" y="0" class="at" text-anchor="middle" textLength="66.6" lengthAdjust="spacingAndGlyphs">Survival probability</text>
<text x="72" y="857.6" class="pv" font-style="italic">P</text>
<path d="M79.6 853.35h5.8M79.6 855.65h5.8" stroke="#222" stroke-width="1.05" fill="none" />
<text x="87.1" y="857.6" class="pv">.015</text>
<path d="M183.2 809H199.6" stroke="#3a9fd2" class="lg" /><path d="M191.4 806V812" stroke="#3a9fd2" class="lgc" />
<text x="203.7" y="812.1" class="lt">BMI &lt;25</text>
<path d="M183.2 822.4H199.6" stroke="#ba1f40" class="lg" /><path d="M191.4 819.4V825.4" stroke="#ba1f40" class="lgc" />
<text x="203.7" y="825.5" class="lt">BMI 25-29.9</text>
<path d="M183.2 835.8H199.6" stroke="#3a4350" class="lg" /><path d="M191.4 832.8V838.8" stroke="#3a4350" class="lgc" />
<text x="203.7" y="838.9" class="lt">BMI ≥30</text>
<g class="cv">
<path d="M69.2 775.2H81.5V781.5H84V788.5H87.6V801.1H105.3V813.6H119.5V828.2H126.2V843.7H186.3V872.9" stroke="#3a9fd2" /><path d="M98 798.7V803.5" stroke="#3a9fd2" class="cs" /><path d="M102.6 798.7V803.5" stroke="#3a9fd2" class="cs" /><path d="M166.2 841.3V846.1" stroke="#3a9fd2" class="cs" />
<path d="M69.2 775.2H72.1V797.3H78.1V808H79V819.6H80.1V829.4H102.4V840.8H112.9V852.1H169V862.9H232" stroke="#ba1f40" /><path d="M232 860.5V865.3" stroke="#ba1f40" class="cs" />
<path d="M69.2 775.2H84.5V787.3H85V797H233" stroke="#3a4350" /><path d="M98.5 794.6V799.4" stroke="#3a4350" class="cs" /><path d="M107.7 794.6V799.4" stroke="#3a4350" class="cs" /><path d="M145.2 794.6V799.4" stroke="#3a4350" class="cs" /><path d="M172.3 794.6V799.4" stroke="#3a4350" class="cs" /><path d="M176.9 794.6V799.4" stroke="#3a4350" class="cs" /><path d="M203 794.6V799.4" stroke="#3a4350" class="cs" /><path d="M233 794.6V799.4" stroke="#3a4350" class="cs" />
</g>
</svg>
</body></html>
